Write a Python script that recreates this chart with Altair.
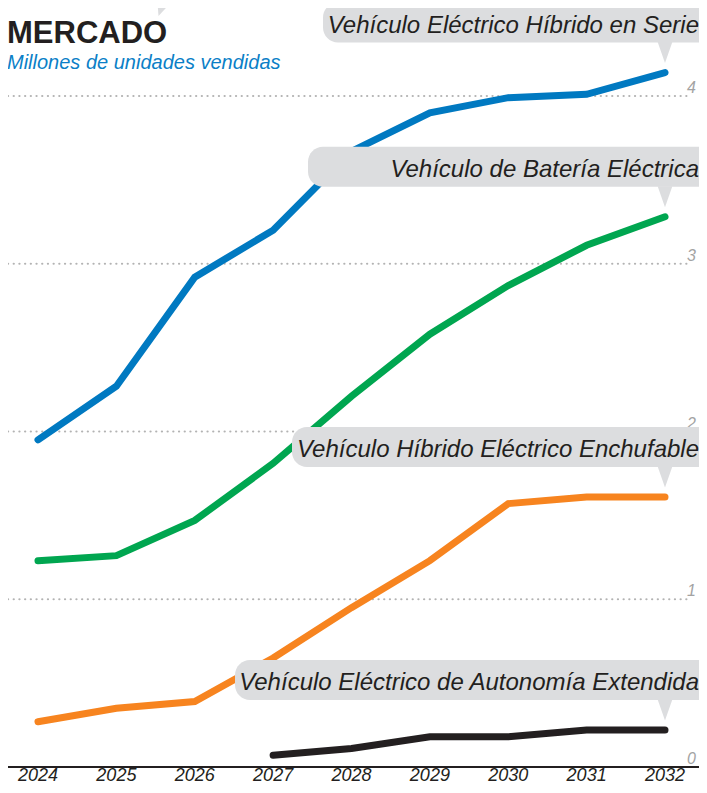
import altair as alt
import pandas as pd

# ---- data ----
years = [2024, 2025, 2026, 2027, 2028, 2029, 2030, 2031, 2032]
serie = [1.95, 2.27, 2.92, 3.20, 3.67, 3.90, 3.99, 4.01, 4.14]
bateria = [1.23, 1.26, 1.47, 1.81, 2.21, 2.58, 2.87, 3.11, 3.28]
enchufable = [0.27, 0.35, 0.39, 0.65, 0.95, 1.23, 1.57, 1.61, 1.61]
extendida = [None, None, None, 0.07, 0.11, 0.18, 0.18, 0.22, 0.22]

names = [
    "Vehículo Eléctrico Híbrido en Serie",
    "Vehículo de Batería Eléctrica",
    "Vehículo Híbrido Eléctrico Enchufable",
    "Vehículo Eléctrico de Autonomía Extendida",
]
series = [serie, bateria, enchufable, extendida]
colors = ["#0079c1", "#00a650", "#f7841f", "#231f20"]
y_ticks = [0, 1, 2, 3, 4]
title_text = "MERCADO"
subtitle_text = "Millones de unidades vendidas"

# box left offsets (px, styling) for each callout
box_left = [-342, -357, -373, -430]

FONT = "Liberation Sans, Arial, Helvetica, sans-serif"
BOX = "#dcdddf"

rows = []
for n, vals in zip(names, series):
    for yr, v in zip(years, vals):
        if v is not None:
            rows.append({"serie": n, "year": yr, "value": v})
df = pd.DataFrame(rows)

xscale = alt.Scale(domain=[2024, 2032], nice=False, zero=False)
yscale = alt.Scale(domain=[0, 4], nice=False, zero=False)

X = lambda f: alt.X(f, scale=xscale, axis=None)
Y = lambda f: alt.Y(f, scale=yscale, axis=None)

grid = alt.Chart(pd.DataFrame({"v": [t for t in y_ticks if t > 0]})).mark_rule(
    color="#b3b3b3", strokeWidth=2.2, strokeDash=[0.1, 5.6], strokeCap="round"
).encode(y=Y("v:Q"), x=alt.value(-30), x2=alt.value(652))

baseline = alt.Chart(pd.DataFrame({"v": [0]})).mark_rule(
    color="#231f20", strokeWidth=2
).encode(y=Y("v:Q"), x=alt.value(-30), x2=alt.value(669))

ylabels = alt.Chart(pd.DataFrame({"v": y_ticks, "t": [str(t) for t in y_ticks]})).mark_text(
    align="right", baseline="alphabetic", dy=-3, font=FONT, fontSize=16,
    fontStyle="italic", color="#a3a3a3"
).encode(y=Y("v:Q"), x=alt.value(658), text="t:N")

xlabels = alt.Chart(pd.DataFrame({"year": years, "t": [str(y) for y in years]})).mark_text(
    align="center", baseline="alphabetic", font=FONT, fontSize=18,
    fontStyle="italic", color="#231f20"
).encode(x=X("year:Q"), y=alt.value(685), text="t:N")

lines = alt.Chart(df).mark_line(strokeWidth=7, strokeCap="round", strokeJoin="miter").encode(
    x=X("year:Q"), y=Y("value:Q"),
    color=alt.Color("serie:N", scale=alt.Scale(domain=names, range=colors), legend=None),
)

callouts = []
for n, vals, bl in zip(names, series, box_left):
    end = pd.DataFrame({"year": [years[-1]], "value": [vals[-1]], "t": [n]})
    base = alt.Chart(end)
    box = base.mark_rect(
        color=BOX, cornerRadius=15, xOffset=bl, x2Offset=80, yOffset=-70, y2Offset=-30
    ).encode(x=X("year:Q"), x2="year:Q", y=Y("value:Q"), y2="value:Q")
    ptr = base.mark_point(
        shape="M-0.7,-1L0.7,-1L0,1Z", size=441, filled=True, color=BOX,
        opacity=1, strokeWidth=0, yOffset=-20
    ).encode(x=X("year:Q"), y=Y("value:Q"))
    txt = base.mark_text(
        align="right", baseline="alphabetic", dx=34, dy=-40, font=FONT,
        fontSize=24, fontStyle="italic", color="#231f20"
    ).encode(x=X("year:Q"), y=Y("value:Q"), text="t:N")
    callouts += [box, ptr, txt]

corner = alt.Chart(pd.DataFrame({"k": [0]})).mark_point(
    shape="M-1,-1L1,-1L-0.85,1Z", size=400, filled=True, color=BOX, opacity=1, strokeWidth=0
).encode(x=alt.value(129), y=alt.value(-90))

title = alt.Chart(pd.DataFrame({"t": [title_text]})).mark_text(
    align="left", baseline="alphabetic", font=FONT, fontSize=31,
    fontWeight="bold", color="#231f20"
).encode(x=alt.value(-31), y=alt.value(-53), text="t:N")

subtitle = alt.Chart(pd.DataFrame({"t": [subtitle_text]})).mark_text(
    align="left", baseline="alphabetic", font=FONT, fontSize=20,
    fontStyle="italic", color="#0b7fc7"
).encode(x=alt.value(-31), y=alt.value(-27), text="t:N")

chart = alt.layer(
    grid, baseline, ylabels, xlabels, lines, *callouts, corner, title, subtitle
).properties(
    width=627, height=671,
    padding={"left": 30, "top": 88, "right": 34, "bottom": 18},
    autosize=alt.AutoSizeParams(type="none"),
).configure_view(stroke=None)

chart.save("out.html", embed_options={"renderer": "svg", "actions": False})
